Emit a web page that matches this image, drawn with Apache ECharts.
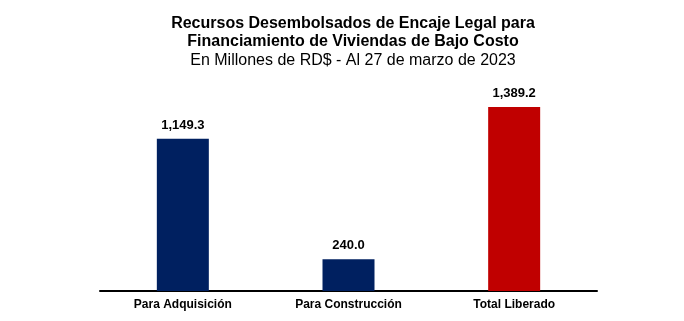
<!DOCTYPE html>
<html><head><meta charset="utf-8">
<script src="https://cdn.jsdelivr.net/npm/echarts@6/dist/echarts.min.js"></script>
<style>html,body{margin:0;padding:0;background:#fff}#c{width:684px;height:321px}</style>
</head><body><div id="c"></div>
<script>
const categories = ['Para Adquisición', 'Para Construcción', 'Total Liberado'];
const values = [1149.3, 240.0, 1389.2];
const barColors = ['#002060', '#002060', '#C00000'];
const titleLines = ['Recursos Desembolsados de Encaje Legal para', 'Financiamiento de Viviendas de Bajo Costo', 'En Millones de RD$ - Al 27 de marzo de 2023'];

const chart = echarts.init(document.getElementById('c'));
const fmt = v => v.toLocaleString('en-US', {minimumFractionDigits: 1, maximumFractionDigits: 1});
chart.setOption({
  animation: false,
  title: titleLines.map((t, i) => ({
    text: t, left: 348, top: 10.5 + i * 18.5, textAlign: 'center',
    textStyle: {fontFamily: 'Liberation Sans, Arial', fontSize: 16, fontWeight: i < 2 ? 'bold' : 'normal', color: '#000'}
  })),
  grid: {left: 100, right: 87, top: 79, bottom: 30, containLabel: false},
  xAxis: {
    type: 'category', data: categories,
    axisLine: {lineStyle: {color: '#000', width: 2}},
    axisTick: {show: false},
    axisLabel: {fontFamily: 'Liberation Sans, Arial', fontSize: 12, fontWeight: 'bold', color: '#000', margin: 8}
  },
  yAxis: {type: 'value', min: 0, max: 1600, show: false, splitLine: {show: false}},
  series: [{
    type: 'bar', barWidth: 52,
    data: values.map((v, i) => ({value: v, itemStyle: {color: barColors[i]}})),
    label: {show: true, position: 'top', distance: 7, formatter: p => fmt(p.value),
      fontFamily: 'Liberation Sans, Arial', fontSize: 13, fontWeight: 'bold', color: '#000'}
  }]
});
</script></body></html>
